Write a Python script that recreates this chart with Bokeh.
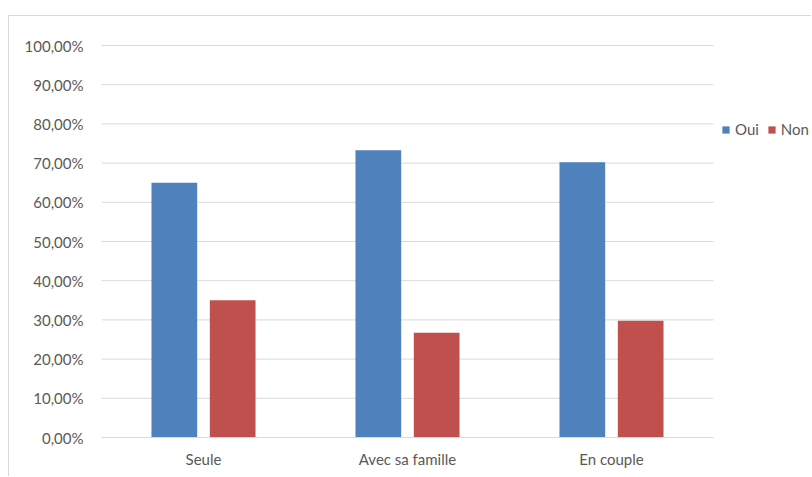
from bokeh.plotting import figure
from bokeh.models import Range1d, FixedTicker, Legend, LegendItem, ColumnDataSource
from bokeh.transform import dodge
from bokeh.embed import file_html
from bokeh.resources import INLINE

# --- data -------------------------------------------------------------
categories = ["Seule", "Avec sa famille", "En couple"]
oui = [0.65, 0.733, 0.702]
non = [0.35, 0.267, 0.298]
series_names = ["Oui", "Non"]
series_colors = ["#4F81BD", "#C0504D"]
y_ticks = [0.0, 0.1, 0.2, 0.3, 0.4, 0.5, 0.6, 0.7, 0.8, 0.9, 1.0]
y_tick_labels = ["0,00%", "10,00%", "20,00%", "30,00%", "40,00%", "50,00%",
                 "60,00%", "70,00%", "80,00%", "90,00%", "100,00%"]

# --- styling ----------------------------------------------------------
FONT = "Lato"
TEXT_COLOR = "#595959"
GRID_COLOR = "#d9d9d9"
BAR_WIDTH = 0.224
OFFSET = 0.143

n = len(categories)
centers = [i + 0.5 for i in range(n)]
source = ColumnDataSource(dict(x=centers, oui=oui, non=non))

p = figure(width=803, height=461, output_backend="svg", toolbar_location=None,
           x_range=Range1d(0, 711 / 204), y_range=Range1d(0, 1 + 1 / 392),
           min_border_left=92, min_border_right=0,
           min_border_top=28, min_border_bottom=40)
p.outline_line_color = None
p.background_fill_color = "white"
p.border_fill_color = "white"
p.xgrid.visible = False
p.ygrid.visible = False
# chart-area border along the top and left edges
p.styles = {"margin-left": "8px", "margin-top": "15px",
            "border-left": f"1px solid {GRID_COLOR}",
            "border-top": f"1px solid {GRID_COLOR}"}

# horizontal gridlines spanning the category area only
p.segment(x0=0, x1=n, y0=y_ticks[1:], y1=y_ticks[1:],
          line_color=GRID_COLOR, line_width=1, level="underlay")

r_oui = p.vbar(x=dodge("x", -OFFSET), top="oui", width=BAR_WIDTH, source=source,
               fill_color=series_colors[0], line_color=None)
r_non = p.vbar(x=dodge("x", OFFSET), top="non", width=BAR_WIDTH, source=source,
               fill_color=series_colors[1], line_color=None)

# x axis: category names under each group
xa = p.xaxis[0]
xa.ticker = FixedTicker(ticks=centers)
xa.major_label_overrides = dict(zip(centers, categories))
xa.bounds = (0, n)
xa.axis_line_color = GRID_COLOR
xa.major_tick_line_color = None
xa.minor_tick_line_color = None
xa.major_tick_out = 0
xa.major_tick_in = 0
xa.major_label_standoff = 12
xa.major_label_text_font = FONT
xa.major_label_text_font_size = "15px"
xa.major_label_text_color = TEXT_COLOR

# y axis: percentage labels
ya = p.yaxis[0]
ya.ticker = FixedTicker(ticks=y_ticks)
ya.major_label_overrides = dict(zip(y_ticks, y_tick_labels))
ya.axis_line_color = None
ya.major_tick_line_color = None
ya.minor_tick_line_color = None
ya.major_tick_out = 0
ya.major_tick_in = 0
ya.major_label_standoff = 18
ya.major_label_text_font = FONT
ya.major_label_text_font_size = "15px"
ya.major_label_text_color = TEXT_COLOR

legend = Legend(
    items=[LegendItem(label=series_names[0], renderers=[r_oui]),
           LegendItem(label=series_names[1], renderers=[r_non])],
    orientation="horizontal", location=(620, 299),
    glyph_width=9, glyph_height=9, label_height=9, label_standoff=5, spacing=8,
    padding=0, margin=0, border_line_color=None, background_fill_alpha=0,
    label_text_font=FONT, label_text_font_size="15px",
    label_text_color=TEXT_COLOR)
p.add_layout(legend, "center")

open("out.html", "w").write(file_html(p, INLINE))
